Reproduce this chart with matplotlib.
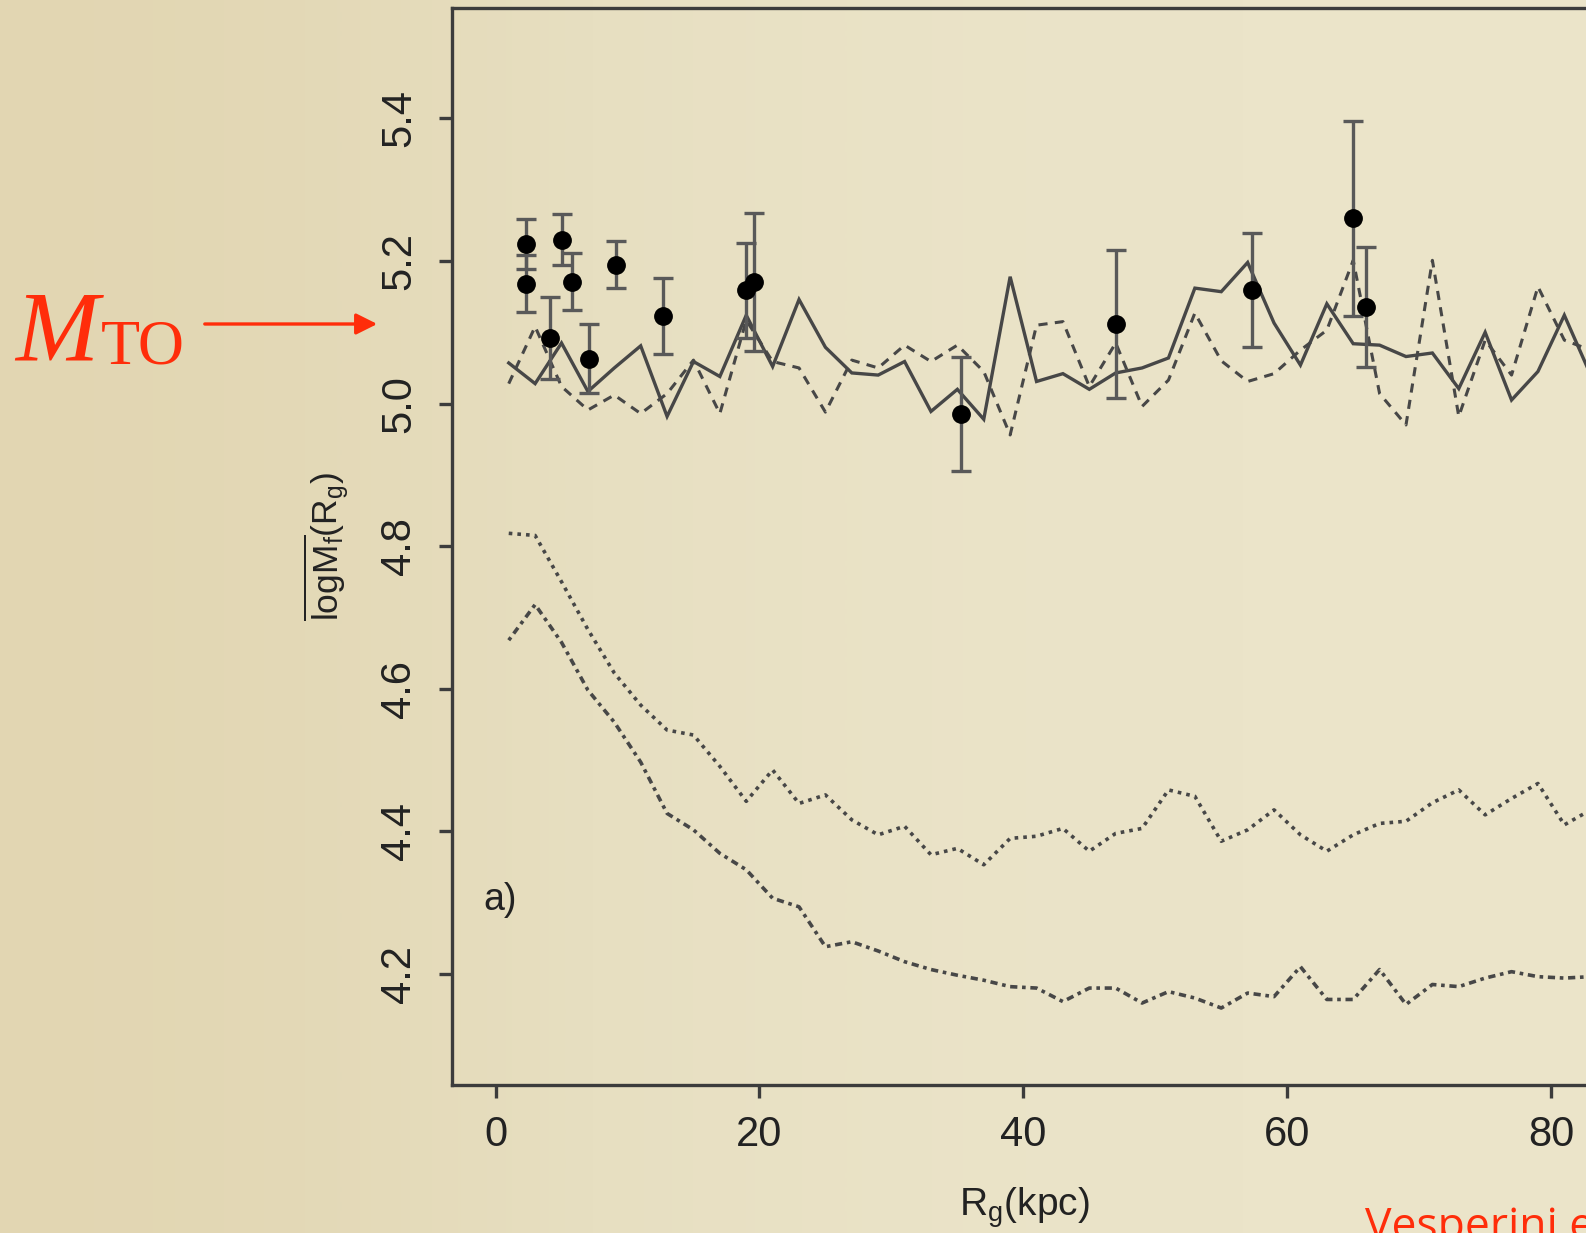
import matplotlib
matplotlib.use("Agg")
import matplotlib.pyplot as plt

# mean log mass of the cluster system vs galactocentric distance
rg = list(range(1, 85, 2))

logm_solid = [5.057, 5.028, 5.085, 5.017, 5.050, 5.081, 4.982, 5.059, 5.038, 5.124,
              5.052, 5.146, 5.079, 5.043, 5.040, 5.059, 4.989, 5.020, 4.978, 5.178,
              5.031, 5.042, 5.020, 5.043, 5.050, 5.064, 5.162, 5.157, 5.198, 5.113,
              5.054, 5.140, 5.084, 5.082, 5.066, 5.071, 5.021, 5.100, 5.005, 5.045,
              5.124, 5.040]

logm_dashed = [5.028, 5.108, 5.024, 4.991, 5.012, 4.986, 5.014, 5.061, 4.986, 5.117,
               5.059, 5.050, 4.988, 5.061, 5.050, 5.082, 5.059, 5.082, 5.045, 4.956,
               5.110, 5.115, 5.024, 5.085, 4.996, 5.033, 5.127, 5.060, 5.031, 5.042,
               5.075, 5.103, 5.201, 5.014, 4.970, 5.201, 4.982, 5.089, 5.040, 5.164,
               5.089, 5.075]

logm_dotted = [4.818, 4.815, 4.750, 4.683, 4.622, 4.577, 4.542, 4.535, 4.491, 4.442,
               4.486, 4.439, 4.451, 4.416, 4.395, 4.407, 4.367, 4.376, 4.353, 4.390,
               4.393, 4.404, 4.372, 4.397, 4.404, 4.458, 4.449, 4.386, 4.402, 4.430,
               4.395, 4.372, 4.395, 4.411, 4.414, 4.440, 4.458, 4.423, 4.446, 4.467,
               4.409, 4.430]

logm_dotdash = [4.668, 4.718, 4.665, 4.598, 4.553, 4.497, 4.425, 4.402, 4.369, 4.346,
                4.306, 4.294, 4.238, 4.245, 4.232, 4.217, 4.206, 4.198, 4.191, 4.182,
                4.180, 4.161, 4.180, 4.180, 4.159, 4.175, 4.166, 4.152, 4.173, 4.168,
                4.210, 4.164, 4.164, 4.206, 4.157, 4.185, 4.182, 4.194, 4.203, 4.196,
                4.194, 4.196]

# observed clusters (binned means with errors)
obs_rg = [2.3, 2.3, 4.1, 5.05, 5.8, 7.1, 9.1, 12.7, 19.0, 19.6, 35.3, 47.0, 57.3, 65.0, 66.0]
obs_logm = [5.224, 5.168, 5.092, 5.230, 5.171, 5.063, 5.195, 5.123, 5.159, 5.171,
            4.986, 5.112, 5.159, 5.260, 5.136]
obs_err = [0.035, 0.040, 0.057, 0.036, 0.040, 0.048, 0.033, 0.053, 0.067, 0.097,
           0.080, 0.104, 0.080, 0.137, 0.084]

xticks = [0, 20, 40, 60, 80]
yticks = [4.2, 4.4, 4.6, 4.8, 5.0, 5.2, 5.4]

plt.rcParams['font.family'] = ['Liberation Sans', 'DejaVu Sans']
plt.rcParams['mathtext.fontset'] = 'custom'
plt.rcParams['mathtext.rm'] = 'Liberation Sans'
plt.rcParams['mathtext.it'] = 'Liberation Sans'

W, H = 1586, 1233
fig = plt.figure(figsize=(W / 100, H / 100), dpi=100)
fig.patch.set_facecolor('#e3d8b5')

# soft paper tone behind everything
bg = fig.add_axes([0, 0, 1, 1], zorder=-10)
bg.imshow([[0.0, 0.5, 1.0, 1.0]], extent=[0, 1, 0, 1], aspect='auto',
          cmap=matplotlib.colors.LinearSegmentedColormap.from_list(
              'paper', ['#e2d6b2', '#e7dfc1', '#ebe4c9']),
          interpolation='bicubic')
bg.set_axis_off()

ax = fig.add_axes([452 / W, (H - 1085) / H, (1596 - 452) / W, (1085 - 8) / H])
ax.set_facecolor('none')

line_col = '#474747'
ax.plot(rg, logm_solid, color=line_col, lw=2.4, solid_joinstyle='miter')
ax.plot(rg, logm_dashed, color=line_col, lw=2.2, linestyle=(0, (3.0, 2.4)))
ax.plot(rg, logm_dotted, color=line_col, lw=2.6, linestyle=(0, (1.0, 1.4)))
ax.plot(rg, logm_dotdash, color=line_col, lw=2.6, linestyle=(0, (1.0, 1.3, 2.0, 1.3)))

ax.errorbar(obs_rg, obs_logm, yerr=obs_err, fmt='o', color='black', ms=12.5,
            ecolor='#595959', elinewidth=2.4, capsize=7, capthick=2.4, zorder=5)

ax.text(-0.95, 4.304, 'a)', fontsize=27, color='#222222', ha='left', va='center')

ax.set_xticks(xticks)
ax.set_yticks(yticks)
ax.set_yticklabels([f'{v:.1f}' for v in yticks])
ax.set_xlim(-3.3, 83.4)
ax.set_ylim(4.044, 5.555)

for sp in ax.spines.values():
    sp.set_linewidth(2.4)
    sp.set_color('#3c3c3c')
ax.tick_params(direction='out', length=9.5, width=2.4, color='#3c3c3c',
               labelsize=30, labelcolor='#222222')
ax.tick_params(axis='x', pad=12)
ax.tick_params(axis='y', pad=14, labelrotation=90)
for lab in ax.get_yticklabels():
    lab.set_va('center')

ax.set_xlabel(r'$\mathrm{R_g(kpc)}$', fontsize=28, color='#222222', va='center')
ax.xaxis.set_label_coords(0.5, (1085 - 1208) / 1077)
ax.set_ylabel(r'$\overline{\mathrm{logM_f}}\mathrm{(R_g)}$', fontsize=25.5,
              color='#222222', va='center')
ax.yaxis.set_label_coords((326 - 452) / 1144, 0.5)

# turnover mass marker
red = '#ff2d0a'
fig.text(15 / W, 1 - 359 / H, 'M', fontsize=72, color=red,
         family='Liberation Serif', style='italic', va='baseline')
fig.text(101 / W, 1 - 364 / H, 'TO', fontsize=46, color=red,
         family='Liberation Serif', va='baseline')
fig.patches.append(matplotlib.patches.FancyArrowPatch(
    (202 / W, 1 - 324 / H), (380 / W, 1 - 324 / H), transform=fig.transFigure,
    arrowstyle='-|>', mutation_scale=32, color=red, lw=2.4))

fig.text(1365 / W, -6 / H, 'Vesperini et al. (2003)', fontsize=32, color=red,
         family=['Open Sans', 'DejaVu Sans'], va='baseline')

fig.savefig('out.png', dpi=100, facecolor=fig.get_facecolor())
